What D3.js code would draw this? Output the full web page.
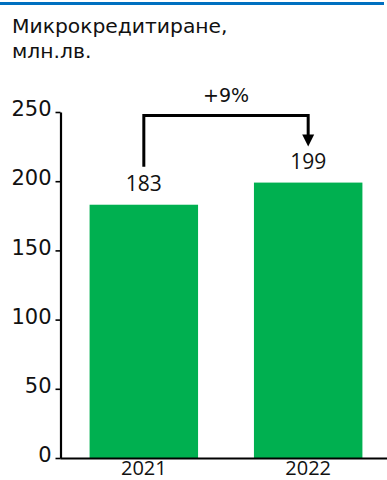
<!DOCTYPE html>
<html>
<head>
<meta charset="utf-8">
<script src="https://cdn.jsdelivr.net/npm/d3@7"></script>
<style>
  html, body { margin: 0; padding: 0; background: #fff; }
  svg { display: block; }
</style>
</head>
<body>
<svg id="chart" width="387" height="480"></svg>
<script>
const titleLines = ["Микрокредитиране,", "млн.лв."];
const categories = ["2021", "2022"];
const values = [183, 199];
const yTicks = [0, 50, 100, 150, 200, 250];
const growthLabel = "+9%";

const svg = d3.select("#chart");

// top blue rule
svg.append("rect").attr("x", 0).attr("y", 2).attr("width", 384).attr("height", 3).attr("fill", "#0070C0");

// title
svg.append("g").selectAll("text").data(titleLines).join("text")
  .attr("x", 12).attr("y", (d, i) => 33 + i * 25)
  .attr("font-family", "DejaVu Sans, Verdana, sans-serif")
  .attr("font-size", 20.3).attr("fill", "#111")
  .text(d => d);

const x = d3.scaleBand().domain(categories).range([60, 392]).paddingInner(0.34).paddingOuter(0.18);
const y = d3.scaleLinear().domain([0, 250]).range([458, 112]);

// bars
svg.append("g").selectAll("rect").data(values).join("rect")
  .attr("x", (d, i) => x(categories[i]))
  .attr("y", d => y(d))
  .attr("width", x.bandwidth())
  .attr("height", d => y(0) - y(d))
  .attr("fill", "#00B050");

// y axis
const yAxis = svg.append("g").attr("transform", "translate(60.5,0)")
  .call(d3.axisLeft(y).tickValues(yTicks).tickSize(5).tickPadding(4).tickSizeOuter(0));
yAxis.select(".domain").attr("stroke", "#000").attr("stroke-width", 2.2);
yAxis.selectAll(".tick line").attr("stroke", "#000").attr("stroke-width", 1.6);
yAxis.selectAll(".tick text")
  .attr("font-family", "DejaVu Sans, Verdana, sans-serif")
  .attr("font-size", 21).attr("fill", "#111").attr("dy", "0.18em");

// x axis
const xAxis = svg.append("g").attr("transform", `translate(0,${y(0)})`)
  .call(d3.axisBottom(x).tickSize(0).tickPadding(0).tickSizeOuter(0));
xAxis.select(".domain").attr("stroke", "#000").attr("stroke-width", 2.2);
xAxis.selectAll(".tick text")
  .attr("font-family", "Open Sans, sans-serif")
  .attr("font-size", 20).attr("fill", "#111")
  .attr("y", 0).attr("dy", 0)
  .attr("transform", "translate(0,16.5)");

// value labels
svg.append("g").selectAll("text").data(values).join("text")
  .attr("x", (d, i) => x(categories[i]) + x.bandwidth() / 2)
  .attr("y", d => y(d) - 14)
  .attr("text-anchor", "middle")
  .attr("font-family", "Open Sans, sans-serif")
  .attr("font-size", 21).attr("fill", "#111")
  .text(d => d);

// growth bracket
const cx0 = x(categories[0]) + x.bandwidth() / 2;
const cx1 = x(categories[1]) + x.bandwidth() / 2;
const topY = y(250) + 3.5;
const startY = y(values[0]) - 38;
const tipY = y(values[1]) - 36;
const headH = 12, headW = 6;
svg.append("path")
  .attr("d", `M${cx0},${startY}V${topY}H${cx1}V${tipY - headH + 1}`)
  .attr("fill", "none").attr("stroke", "#000").attr("stroke-width", 3);
svg.append("path")
  .attr("d", `M${cx1 - headW},${tipY - headH}L${cx1 + headW},${tipY - headH}L${cx1},${tipY}Z`)
  .attr("fill", "#000");
svg.append("text")
  .attr("x", (cx0 + cx1) / 2).attr("y", topY - 13.5)
  .attr("text-anchor", "middle")
  .attr("font-family", "DejaVu Sans, Verdana, sans-serif")
  .attr("font-size", 19).attr("fill", "#111")
  .text(growthLabel);
</script>
</body>
</html>
